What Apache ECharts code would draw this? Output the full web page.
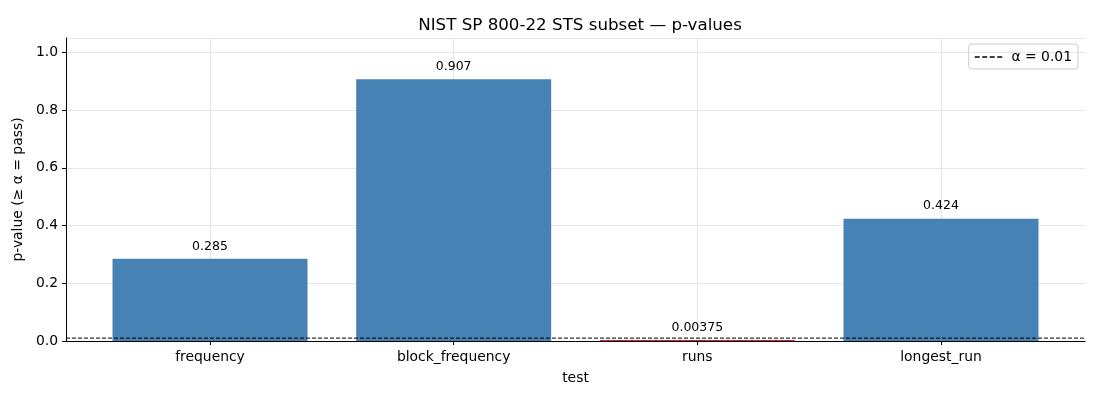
<!DOCTYPE html>
<html>
  <head>
    <meta charset="utf-8" />
    <title>NIST SP 800-22 STS subset</title>
    <style>
      html, body { margin: 0; padding: 0; background: #fff; }
      #chart { width: 1100px; height: 400px; }
    </style>
  </head>
  <body>
    <script type="text/javascript" src="https://cdn.jsdelivr.net/npm/echarts@6/dist/echarts.min.js"></script>
    <div id="chart"></div>
    <script type="text/javascript">
      var tests = ["frequency", "block_frequency", "runs", "longest_run"];
      var pValues = [0.285, 0.907, 0.00375, 0.424];
      var valueLabels = ["0.285", "0.907", "0.00375", "0.424"];
      var alpha = 0.01;
      var alphaName = "α = 0.01";

      var passColor = "#4682b4";
      var failColor = "crimson";

      var barData = [];
      for (var i = 0; i < tests.length; i++) {
        barData.push({
          value: pValues[i],
          itemStyle: { color: pValues[i] >= alpha ? passColor : failColor },
          label: { formatter: valueLabels[i] },
        });
      }

      var myChart = echarts.init(document.getElementById("chart"));
      var font = "DejaVu Sans";
      // dashed line for the legend, four dashes
      var dashIcon = "path://M0,0h5v1.4h-5z M7.5,0h5v1.4h-5z M15,0h5v1.4h-5z M22.5,0h5v1.4h-5z";

      var option = {
        animation: false,
        textStyle: { fontFamily: font },
        title: {
          text: "NIST SP 800-22 STS subset — p-values",
          left: 575,
          textAlign: "center",
          top: 12,
          textStyle: { fontSize: 16.7, fontWeight: "normal", color: "#000", fontFamily: font },
        },
        legend: {
          data: [{ name: alphaName, icon: dashIcon }],
          right: 22,
          top: 44,
          padding: [6, 6, 5, 6],
          borderColor: "#cccccc",
          borderWidth: 1,
          borderRadius: 3,
          itemWidth: 28,
          itemHeight: 1.4,
          itemGap: 10,
          textStyle: { fontSize: 13.9, color: "#000", fontFamily: font, padding: [0, 0, 0, 4] },
        },
        grid: [
          { left: 66, right: 15, top: 38, bottom: 59 },
          { left: 210, right: 159, top: 38, bottom: 59 },
        ],
        xAxis: [
          {
            type: "value",
            gridIndex: 0,
            min: 0,
            max: 1,
            axisLine: { show: true, onZero: false, lineStyle: { color: "#000", width: 1 } },
            axisTick: { show: false },
            axisLabel: { show: false },
            splitLine: { show: false },
          },
          {
            type: "category",
            gridIndex: 1,
            data: tests,
            boundaryGap: false,
            name: "test",
            nameLocation: "middle",
            nameGap: 30,
            nameTextStyle: { fontSize: 13.9, color: "#000" },
            axisLine: { show: false },
            axisTick: { show: true, length: 4, lineStyle: { color: "#000" } },
            axisLabel: { fontSize: 13.9, color: "#000", margin: 9 },
            splitLine: { show: true, lineStyle: { color: "#e6e6e6", width: 1 } },
          },
        ],
        yAxis: [
          {
            type: "value",
            gridIndex: 0,
            min: 0,
            max: 1.05,
            interval: 0.2,
            name: "p-value (≥ α = pass)",
            nameLocation: "middle",
            nameGap: 38,
            nameTextStyle: { fontSize: 13.9, color: "#000" },
            axisLine: { show: true, lineStyle: { color: "#000", width: 1 } },
            axisTick: { show: true, length: 4, lineStyle: { color: "#000" } },
            axisLabel: {
              fontSize: 13.9,
              color: "#000",
              margin: 8,
              showMaxLabel: false,
              formatter: function (v) {
                return v.toFixed(1);
              },
            },
            splitLine: { show: true, lineStyle: { color: "#e6e6e6", width: 1 } },
          },
          {
            type: "value",
            gridIndex: 1,
            min: 0,
            max: 1.05,
            show: false,
          },
        ],
        series: [
          {
            name: "p-value",
            type: "bar",
            xAxisIndex: 1,
            yAxisIndex: 1,
            barWidth: 195,
            clip: false,
            data: barData,
            label: {
              show: true,
              position: "top",
              distance: 6,
              fontSize: 12.5,
              color: "#000",
            },
            z: 2,
          },
          {
            name: alphaName,
            type: "line",
            xAxisIndex: 0,
            yAxisIndex: 0,
            symbol: "none",
            data: [
              [0, alpha],
              [1, alpha],
            ],
            lineStyle: { color: "#000", width: 1, type: [4, 2] },
            itemStyle: { color: "#000" },
            z: 5,
          },
        ],
      };

      myChart.setOption(option);
    </script>
  </body>
</html>
